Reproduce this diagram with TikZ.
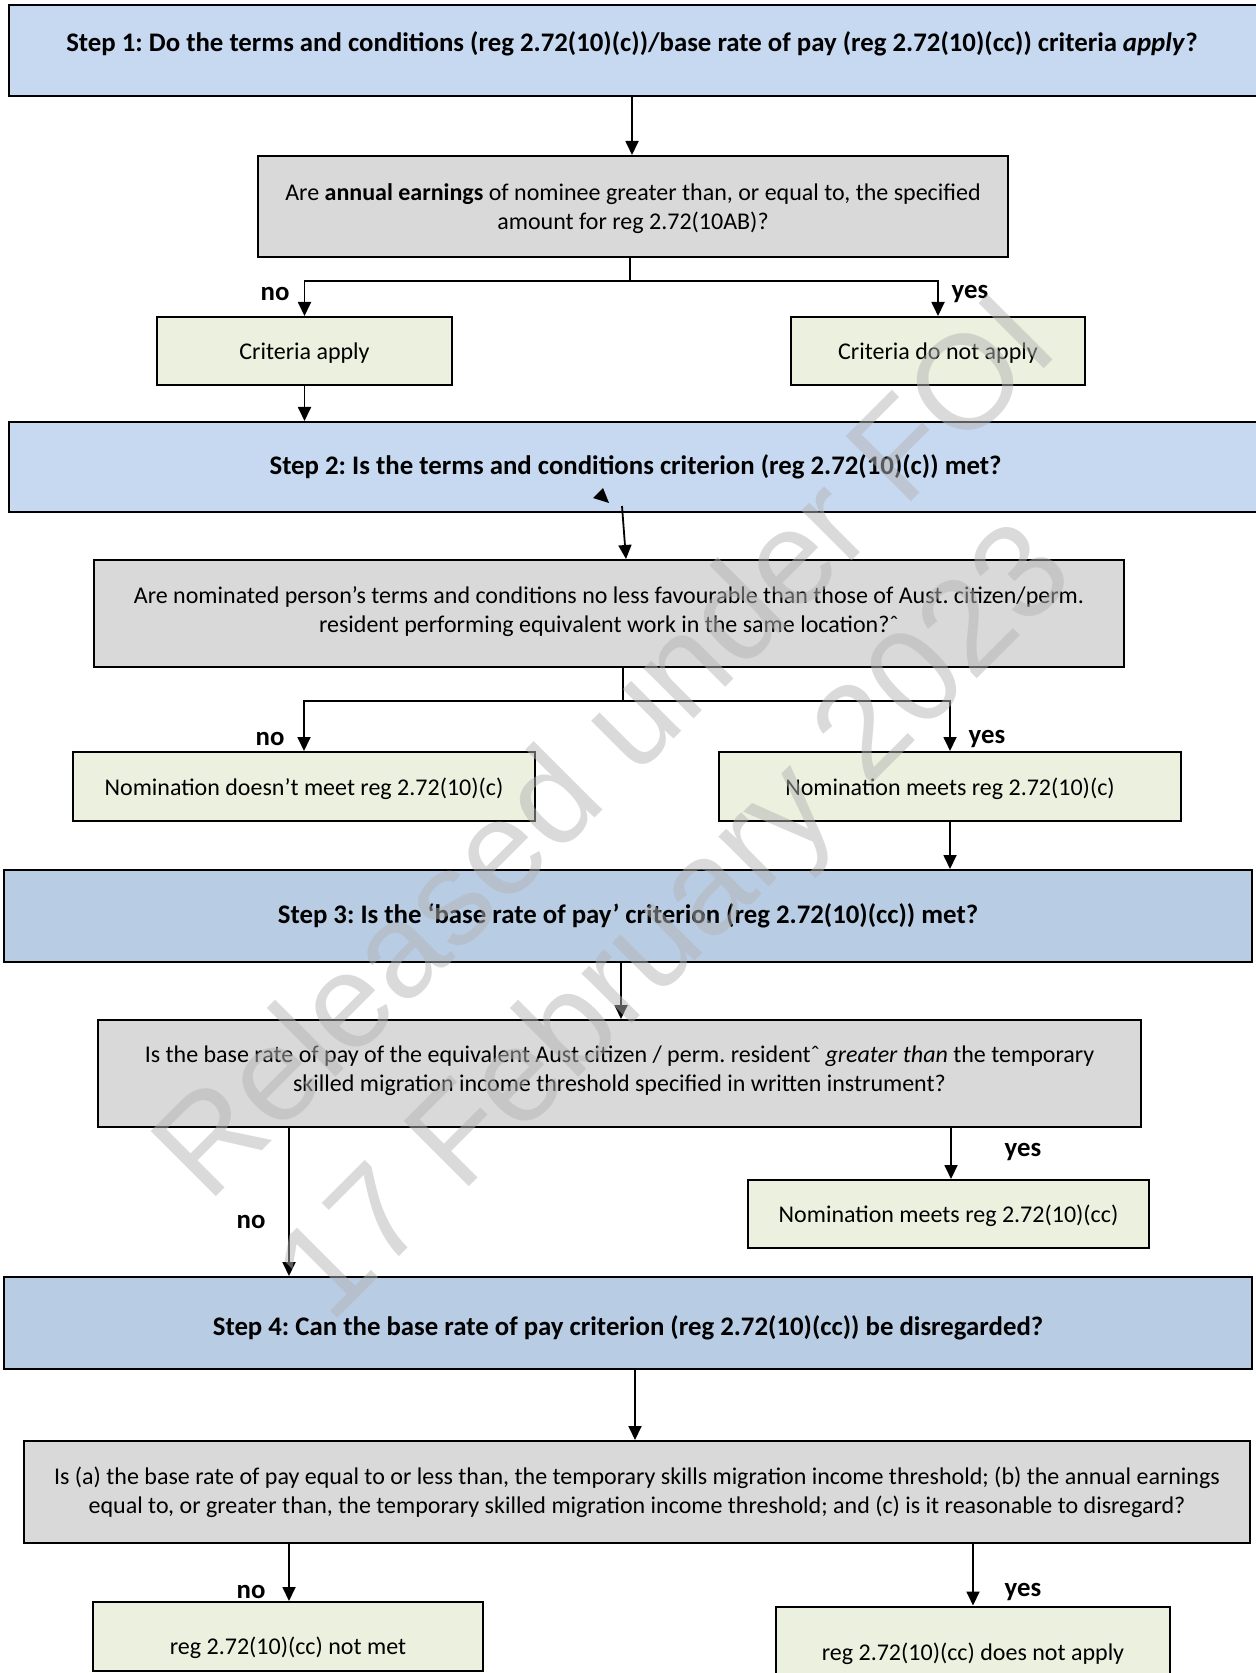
\documentclass[tikz,border=0pt]{standalone}
\usepackage{fontspec}
\setmainfont{Carlito}
\newfontfamily\wmfont{Liberation Sans}
\usetikzlibrary{arrows.meta}
\frenchspacing
\definecolor{stepA}{HTML}{C6D9F1}
\definecolor{stepB}{HTML}{B8CCE4}
\definecolor{qgray}{HTML}{D9D9D9}
\definecolor{rgreen}{HTML}{EBF1DE}
\definecolor{wmgray}{HTML}{B5B5B5}
\tikzset{
  basefont/.style={font=\fontsize{12}{14.5}\selectfont},
  titlefont/.style={font=\fontsize{13.4}{16}\selectfont\bfseries},
  box/.style={basefont, draw=black, line width=1pt, inner sep=0pt, align=center},
  stepbox/.style={box, fill=stepA, titlefont},
  stepboxb/.style={box, fill=stepB, titlefont},
  qbox/.style={box, fill=qgray},
  rbox/.style={box, fill=rgreen, text height=10.8pt, text depth=2.3pt},
  txt/.style={basefont, inner sep=0pt, align=center},
  lbl/.style={titlefont, inner sep=0pt},
  arr/.style={line width=0.9pt, -{Triangle[length=7pt,width=6.5pt]}},
  conn/.style={line width=0.9pt},
  wm/.style={font=\wmfont\fontsize{67}{67}\selectfont, text=wmgray, text opacity=0.5, inner sep=0pt, rotate=45, anchor=base west}
}
\begin{document}
\begin{tikzpicture}[x=0.5pt, y=-0.5pt]
\useasboundingbox (0,0) rectangle (1255,1673);

% Step 1
\node[stepbox, minimum width=626.5pt, minimum height=45.5pt] (step1) at (635.5,50.5) {};
\node[titlefont, inner sep=0pt] (step1t) at (632,44)
  {Step 1: Do the terms and conditions (reg 2.72(10)(c))/base rate of pay (reg 2.72(10)(cc)) criteria \textit{apply}?};

\node[qbox, minimum width=375pt, minimum height=50.5pt] (ann) at (633,206.5) {};
\node[txt] (annt) at (633,208.5)
  {Are \textbf{annual earnings} of nominee greater than, or equal to, the specified\\amount for reg 2.72(10AB)?};

\node[rbox, minimum width=147.5pt, minimum height=34pt] (critA) at (304.5,351) {Criteria apply};
\node[rbox, minimum width=147pt, minimum height=34pt] (critN) at (938,351) {Criteria do not apply};

% Step 2
\node[stepbox, minimum width=626.5pt, minimum height=45pt] (step2) at (635.5,467)
  {Step 2: Is the terms and conditions criterion (reg 2.72(10)(c)) met?};

\node[qbox, minimum width=515pt, minimum height=53.5pt] (terms) at (609,613.5) {};
\node[txt] (termst) at (609,611.5)
  {Are nominated person’s terms and conditions no less favourable than those of Aust. citizen/perm.\\resident performing equivalent work in the same location?ˆ};

\node[rbox, minimum width=231pt, minimum height=34.5pt] (nodm) at (304,786.5) {Nomination doesn’t meet reg 2.72(10)(c)};
\node[rbox, minimum width=231pt, minimum height=34.5pt] (nm) at (950,786.5) {Nomination meets reg 2.72(10)(c)};

% Step 3
\node[stepboxb, minimum width=624pt, minimum height=46pt] (step3) at (628,916)
  {Step 3: Is the ‘base rate of pay’ criterion (reg 2.72(10)(cc)) met?};

\node[qbox, minimum width=521.5pt, minimum height=53.5pt] (base) at (619.5,1073.5) {};
\node[txt] (baset) at (619.5,1070.5)
  {Is the base rate of pay of the equivalent Aust citizen / perm. residentˆ \textit{greater than} the temporary\\skilled migration income threshold specified in written instrument?};

\node[rbox, minimum width=200.5pt, minimum height=34pt] (nmcc) at (948.5,1214) {Nomination meets reg 2.72(10)(cc)};

% Step 4
\node[stepboxb, minimum width=624pt, minimum height=46pt] (step4) at (628,1323) {};
\node[titlefont, inner sep=0pt] (step4t) at (628,1328)
  {Step 4: Can the base rate of pay criterion (reg 2.72(10)(cc)) be disregarded?};

\node[qbox, minimum width=613pt, minimum height=51pt] (isa) at (637,1492)
  {Is (a) the base rate of pay equal to or less than, the temporary skills migration income threshold; (b) the annual earnings\\equal to, or greater than, the temporary skilled migration income threshold; and (c) is it reasonable to disregard?};

\node[rbox, minimum width=195pt, minimum height=34.5pt] (rnm) at (288,1636.5) {};
\node[txt] (rnmt) at (288,1648) {reg 2.72(10)(cc) not met};
\node[rbox, minimum width=197pt, minimum height=45pt] (rdna) at (973,1651.5) {reg 2.72(10)(cc) does not apply};

% connectors
\coordinate (c1) at (632,0);
\draw[arr] (c1 |- step1.south) -- (c1 |- ann.north);
\coordinate (j1) at (630,281);
\draw[conn] (j1 |- ann.south) -- (j1);
\draw[arr] (j1) -| (critA.north);
\draw[arr] (j1) -| (critN.north);
\draw[arr] (critA.south) -- (critA.south |- step2.north);

\coordinate (s2a) at (622,506);
\coordinate (s2b) at (626,0);
\draw[arr] (s2a) -- (s2b |- terms.north);
\fill (593,498) -- (603,488) -- (609,503) -- cycle;

\coordinate (j2) at (623,701);
\draw[conn] (j2 |- terms.south) -- (j2);
\draw[arr] (j2) -| (nodm.north);
\draw[arr] (j2) -| (nm.north);
\draw[arr] (nm.south) -- (nm.south |- step3.north);

\coordinate (c3) at (621,0);
\draw[arr] (c3 |- step3.south) -- (c3 |- base.north);
\coordinate (c3y) at (951,0);
\draw[arr] (c3y |- base.south) -- (c3y |- nmcc.north);
\coordinate (c3n) at (289,0);
\draw[arr] (c3n |- base.south) -- (c3n |- step4.north);

\coordinate (c4) at (635,0);
\draw[arr] (c4 |- step4.south) -- (c4 |- isa.north);
\coordinate (c4n) at (289,0);
\draw[arr] (c4n |- isa.south) -- (c4n |- rnm.north);
\coordinate (c4y) at (973,0);
\draw[arr] (c4y |- isa.south) -- (c4y |- rdna.north);

% labels
\node[lbl] (no1) at (275,294) {no};
\node[lbl] (yes1) at (970,294) {yes};
\node[lbl] (no2) at (270,739) {no};
\node[lbl] (yes2) at (987,739) {yes};
\node[lbl] (yes3) at (1023,1152) {yes};
\node[lbl] (no3) at (251,1222) {no};
\node[lbl] (no4) at (251,1592) {no};
\node[lbl] (yes4) at (1023,1592) {yes};

% watermark
\node[wm] (wm1) at (208.5,1204.5) {Released under FOI};
\node[wm] (wm2) at (330,1326) {17 February 2023};
\end{tikzpicture}
\end{document}
